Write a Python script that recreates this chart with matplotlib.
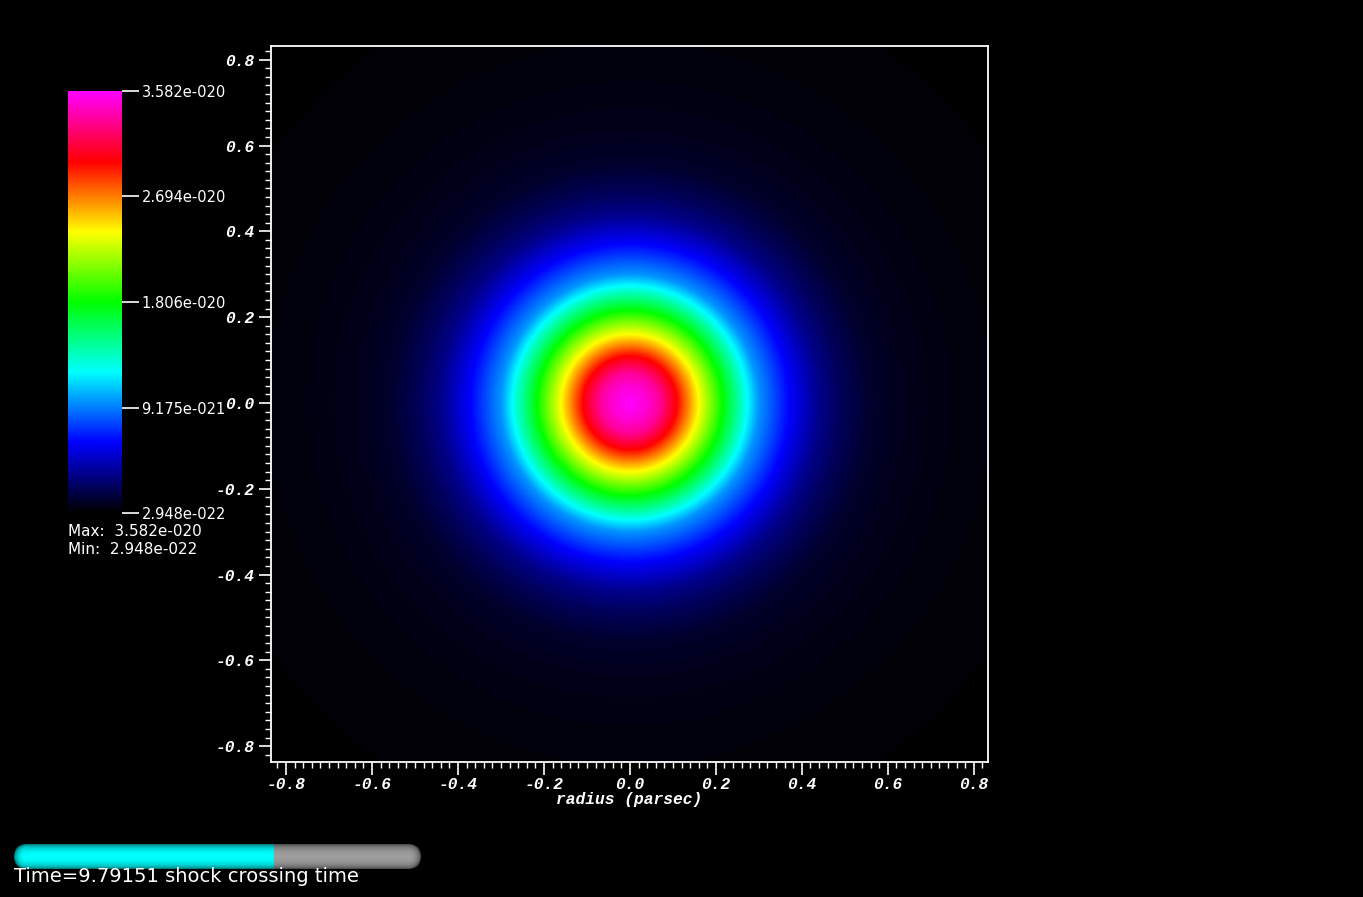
import numpy as np
import matplotlib
matplotlib.use("Agg")
import matplotlib.pyplot as plt
from matplotlib.colors import LinearSegmentedColormap
from matplotlib.patches import FancyBboxPatch
from matplotlib.ticker import MultipleLocator, FormatStrFormatter
from matplotlib.font_manager import FontProperties

# Perfil radial de densidad (radio en parsec, densidad en 1e-20)
radio_pc = [0.0, 0.04, 0.07, 0.109, 0.16, 0.216, 0.274, 0.30, 0.372, 0.44,
            0.49, 0.56, 0.65, 0.8, 1.0, 1.2]
densidad_e20 = [3.582, 3.475, 3.333, 2.989, 2.399, 1.806, 1.213, 0.971, 0.623, 0.356,
                0.243, 0.136, 0.093, 0.061, 0.044, 0.037]

dens_min = 2.948e-22
dens_max = 3.582e-20
cbar_ticks = [2.948e-22, 9.175e-21, 1.806e-20, 2.694e-20, 3.582e-20]
cbar_labels = ["2.948e-022", "9.175e-021", "1.806e-020", "2.694e-020", "3.582e-020"]
tiempo = 9.79151
progreso = 0.639

# colormap tipo "caleblack"
cmap = LinearSegmentedColormap.from_list(
    "caleblack", ["#000000", "#0000ff", "#00ffff", "#00ff00", "#ffff00", "#ff0000", "#ff00ff"])

W, H = 1363, 897
fig = plt.figure(figsize=(W / 100, H / 100), dpi=100, facecolor="black")

# --- campo de densidad ---
ax = fig.add_axes([271 / W, (H - 762) / H, (988 - 271) / W, (762 - 46) / H])
ax.set_facecolor("black")
xlim = (-0.835, 0.833)
ylim = (-0.837, 0.832)
xs = np.linspace(xlim[0], xlim[1], 900)
ys = np.linspace(ylim[0], ylim[1], 900)
X, Y = np.meshgrid(xs, ys)
R = np.sqrt(X ** 2 + Y ** 2)
campo = np.interp(R, radio_pc, np.array(densidad_e20) * 1e-20)
ax.imshow(campo, extent=[xlim[0], xlim[1], ylim[0], ylim[1]], origin="lower",
          cmap=cmap, vmin=dens_min, vmax=dens_max, interpolation="bilinear", aspect="auto")
ax.set_xlim(xlim)
ax.set_ylim(ylim)

for s in ax.spines.values():
    s.set_color("white")
    s.set_linewidth(1.3)

fuente_eje = dict(family="Liberation Mono", weight="bold", style="italic", size=11.7)
ax.xaxis.set_major_locator(MultipleLocator(0.2))
ax.xaxis.set_minor_locator(MultipleLocator(0.02))
ax.yaxis.set_major_locator(MultipleLocator(0.2))
ax.yaxis.set_minor_locator(MultipleLocator(0.02))
ax.xaxis.set_major_formatter(FormatStrFormatter("%.1f"))
ax.yaxis.set_major_formatter(FormatStrFormatter("%.1f"))
ax.tick_params(which="major", length=9, width=1.2, color="white", labelcolor="white")
ax.tick_params(axis="x", which="major", pad=2)
ax.tick_params(axis="y", which="major", pad=3)
ax.tick_params(which="minor", length=4, width=1.0, color="white")
for lab in ax.get_xticklabels() + ax.get_yticklabels():
    lab.set_fontproperties(FontProperties(**fuente_eje))
ax.set_xlabel("radius (parsec)", color="white", labelpad=0, **fuente_eje)

# --- barra de color ---
cax = fig.add_axes([68 / W, (H - 513) / H, 54 / W, (513 - 91) / H])
grad = np.linspace(dens_min, dens_max, 512).reshape(-1, 1)
cax.imshow(grad, extent=[0, 1, dens_min, dens_max], origin="lower", aspect="auto",
           cmap=cmap, vmin=dens_min, vmax=dens_max)
cax.set_xlim(0, 1)
cax.set_ylim(dens_min, dens_max)
for s in cax.spines.values():
    s.set_visible(False)
cax.set_xticks([])
cax.yaxis.tick_right()
cax.set_yticks(cbar_ticks)
cax.set_yticklabels(cbar_labels)
cax.tick_params(axis="y", length=12, width=1.2, color="white", labelcolor="white",
                labelsize=10.5, pad=2, direction="out")
for lab in cax.get_yticklabels():
    lab.set_family("DejaVu Sans")

# --- textos y barra de tiempo en coordenadas de pixel ---
over = fig.add_axes([0, 0, 1, 1])
over.set_xlim(0, W)
over.set_ylim(H, 0)
over.axis("off")
over.patch.set_alpha(0)

over.text(68, 532, "Max:  %.3fe-020" % (dens_max * 1e20), color="white", fontsize=11,
          va="center", ha="left", family="DejaVu Sans")
over.text(68, 550, "Min:  %.3fe-022" % (dens_min * 1e22), color="white", fontsize=11,
          va="center", ha="left", family="DejaVu Sans")

x0, x1, y0, y1 = 14, 421, 844, 869
rad = (y1 - y0) / 2
xc = x0 + progreso * (x1 - x0)
px = np.arange(x0, x1) + 0.5
py = np.arange(y0, y1) + 0.5
PX, PY = np.meshgrid(px, py)
dx = np.clip(PX, x0 + rad, x1 - rad) - PX
dy = PY - (y0 + y1) / 2
d = np.clip(np.sqrt(dx ** 2 + dy ** 2) / rad, 0, 1)
luz = 0.3 + 0.7 * np.sqrt(1 - d ** 2)
base = np.where(PX[..., None] < xc, np.array([0.0, 1.0, 1.0]), np.array([0.62, 0.62, 0.62]))
img = np.clip(base * luz[..., None], 0, 1)
pill = FancyBboxPatch((x0, y0), x1 - x0, y1 - y0,
                      boxstyle="round,pad=0,rounding_size=%f" % rad,
                      facecolor="none", edgecolor="none")
over.add_patch(pill)
im = over.imshow(img, extent=[x0, x1, y1, y0], interpolation="bilinear", aspect="auto")
im.set_clip_path(pill)
over.set_xlim(0, W)
over.set_ylim(H, 0)

over.text(14, 876, "Time=%.5f shock crossing time" % tiempo, color="white", fontsize=14,
          va="center", ha="left", family="DejaVu Sans")

fig.savefig("out.png", dpi=100, facecolor="black")
